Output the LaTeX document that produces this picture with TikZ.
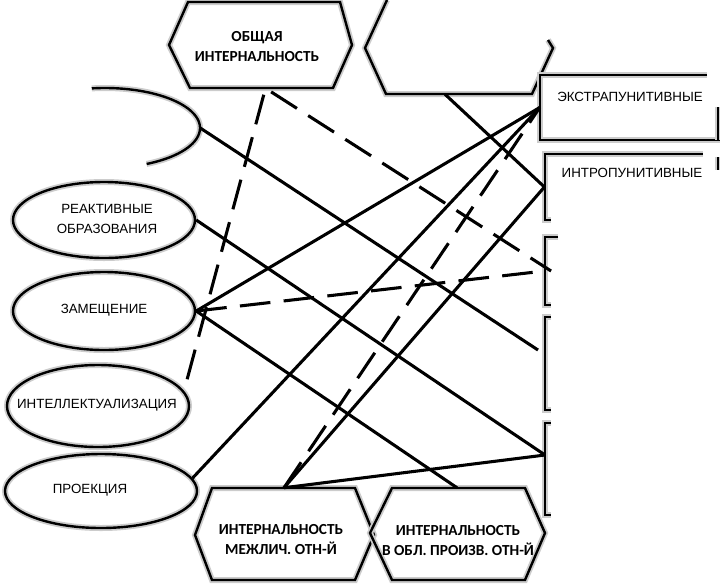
\documentclass[tikz,border=0pt]{standalone}
\usepackage{fontspec}
\setmainfont{Carlito}
\newfontfamily\garb{Liberation Sans}
\usetikzlibrary{shapes.geometric}
\begin{document}
\begin{tikzpicture}[x=0.75pt,y=-0.75pt,
  shp/.style={line width=1.8pt, line join=miter, preaction={draw=black!20, line width=4.5pt}},
  conn/.style={line width=2.3pt},
  dconn/.style={line width=2.3pt, dash pattern=on 23pt off 10pt},
  ell/.style={ellipse, inner sep=0pt, draw, shp},
  ghost/.style={rectangle, inner sep=0pt},
  hext/.style={inner sep=0pt, align=center, font=\bfseries\fontsize{11.5}{15}\selectfont},
  etext/.style={inner sep=0pt, align=center, font=\garb\fontsize{10}{15}\selectfont}]
\useasboundingbox (0,0) rectangle (720,583);

% ellipses (left column)
\node[ellipse, inner sep=0pt, minimum width=142.5pt, minimum height=60pt] (e0) at (105,128) {};
\node[ell, minimum width=136.5pt, minimum height=57pt] (reakt) at (104,220) {};
\node[ell, minimum width=136.5pt, minimum height=58.5pt] (zam) at (104,311) {};
\node[ell, minimum width=136.5pt, minimum height=61.5pt] (intel) at (98,406) {};
\node[ell, minimum width=144pt, minimum height=55.5pt] (proek) at (101,491) {};
\draw[shp] plot[domain=-98:64, samples=60, smooth] ({105+95*cos(\x)},{128+40*sin(\x)});

\node[etext] at (107,219) {РЕАКТИВНЫЕ\\ОБРАЗОВАНИЯ};
\node[etext] at (104,310) {ЗАМЕЩЕНИЕ};
\node[etext] at (97,405) {ИНТЕЛЛЕКТУАЛИЗАЦИЯ};
\node[etext] at (90,490) {ПРОЕКЦИЯ};

% hexagons
\node[ghost, minimum width=137pt, minimum height=64.5pt] (obsh) at (260.5,45) {};
\node[ghost, minimum width=141pt, minimum height=70.5pt] (vnesh) at (459,47) {};
\node[ghost, minimum width=134pt, minimum height=69pt] (mezh) at (284,534) {};
\node[ghost, minimum width=131pt, minimum height=69pt] (vobl) at (457,534) {};
\draw[shp] (169,45)--(188,2)--(340,2)--(352,45)--(333,88)--(190,88)--cycle;
\draw[shp] (387,0)--(365,48)--(386,94)--(532,94)--(553,48)--(548,40);
\draw[shp] (195,535)--(212,488)--(355,488)--(374,535)--(355,580)--(212,580)--cycle;
\draw[shp] (370,533)--(392,488)--(525,488)--(545,533)--(525,580)--(392,580)--cycle;
\node[hext] at (257,47) {ОБЩАЯ\\ИНТЕРНАЛЬНОСТЬ};
\node[hext] at (281,540) {ИНТЕРНАЛЬНОСТЬ\\МЕЖЛИЧ. ОТН-Й};
\node[hext] at (458,541) {ИНТЕРНАЛЬНОСТЬ\\В ОБЛ. ПРОИЗВ. ОТН-Й};

% right boxes
\node[ghost, minimum width=133.5pt, minimum height=48.75pt] (box1) at (629,107.5) {};
\node[ghost, minimum width=131pt, minimum height=49.5pt] (box2) at (632,187) {};
\node[ghost, minimum width=131pt, minimum height=51pt] (box3) at (632,271) {};
\node[ghost, minimum width=131pt, minimum height=69.75pt] (box4) at (632,363.5) {};
\node[ghost, minimum width=131pt, minimum height=69pt] (box5) at (632,469) {};
\draw[shp] (707,75)--(540,75)--(540,140)--(720,140);
\draw[shp] (718,107)--(718,140);
\draw[shp] (703,154)--(545,154)--(545,220)--(551,220);
\draw[shp] (718,157)--(718,170);
\draw[shp] (558,237)--(545,237)--(545,305)--(551,305);
\draw[shp] (551,317)--(545,317)--(545,410)--(551,410);
\draw[shp] (551,423)--(545,423)--(545,515)--(551,515);
\node[etext] at (630,97) {ЭКСТРАПУНИТИВНЫЕ};
\node[etext] at (632,173) {ИНТРОПУНИТИВНЫЕ};

\coordinate (b4in) at (538,350);
\coordinate (b5in) at (545,455);

% connectors
\draw[conn] (e0.east) -- (b4in);
\draw[dconn, shorten <=5pt] ([xshift=3.75pt]obsh.south) -- ([xshift=5pt]box3.west);
\draw[dconn, shorten <=5pt] ([xshift=3.75pt]obsh.south) -- (intel.10);
\draw[conn] ([xshift=-10.5pt]vnesh.south) -- (box2.west);
\draw[conn] (reakt.east) -- (b5in);
\draw[conn] (zam.east) -- (box1.west);
\draw[dconn] (zam.east) -- (box3.west);
\draw[conn] (zam.east) -- (vobl.north);
\draw[conn] (proek.8) -- (box1.west);
\draw[dconn] (mezh.north) -- (box1.west);
\draw[conn] (mezh.north) -- (box2.west);
\draw[conn] (mezh.north) -- (b5in);
\end{tikzpicture}
\end{document}
